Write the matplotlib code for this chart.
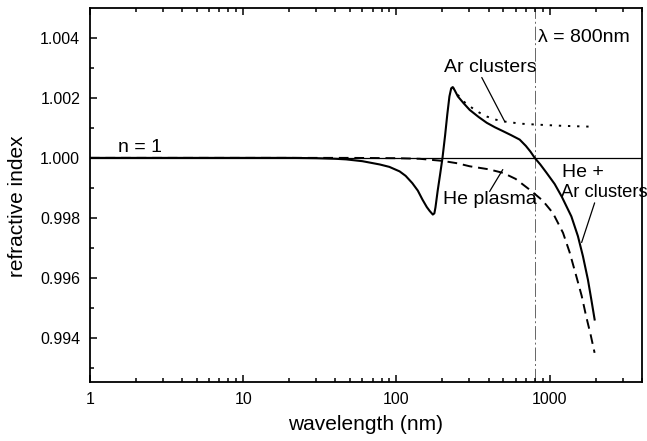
"""
Refractive index vs wavelength: He plasma, Ar clusters and the mixture.
Values read off the reference figure by eye.
"""
import matplotlib
matplotlib.use("Agg")
import matplotlib.pyplot as plt
from matplotlib.ticker import FixedLocator, LogLocator, NullFormatter, FormatStrFormatter

plt.rcParams["font.family"] = ["Liberation Sans", "DejaVu Sans"]

# ----- data -----
wl_mix = [1, 10, 20, 30, 40, 47, 60, 78, 90, 105, 115, 127, 138, 148, 158, 165, 173,
          177, 180, 186, 193, 200, 208, 215, 222, 228, 233, 240, 252, 275, 301, 345,
          389, 440, 497, 560, 638, 700, 750, 800, 870, 953, 1079, 1200, 1387, 1531,
          1651, 1779, 1872, 1968]
n_mix = [1.0, 1.0, 1.0, 0.99999, 0.99997, 0.99995, 0.99989, 0.99978, 0.99970, 0.99955,
         0.99940, 0.99916, 0.99891, 0.99861, 0.99836, 0.99823, 0.99811,
         0.99815, 0.99835, 0.99890, 0.99945, 1.00000, 1.00075, 1.00145, 1.00205,
         1.00232, 1.00236, 1.00226, 1.00205, 1.00182, 1.00160, 1.00136,
         1.00117, 1.00102, 1.00089, 1.00076, 1.00061, 1.00040, 1.00021, 1.00000,
         0.99978, 0.99951, 0.99913, 0.99871, 0.99805, 0.99739,
         0.99672, 0.99594, 0.99528, 0.99461]

wl_ar = [233, 240, 252, 275, 301, 345, 389, 440, 510, 650, 820, 1200, 1600, 1900]
n_ar = [1.00236, 1.00228, 1.00210, 1.00188, 1.00172, 1.00152, 1.00138, 1.00128,
        1.00121, 1.00114, 1.00111, 1.00107, 1.00105, 1.00104]

wl_he = [1, 50, 100, 142, 200, 250, 301, 400, 497, 600, 741, 900, 1052, 1224, 1350,
         1495, 1620, 1732, 1850, 1967]
n_he = [1.0, 1.0, 0.99999, 0.99997, 0.99990, 0.99982, 0.99972, 0.99962, 0.99950,
        0.99930, 0.99894, 0.99858, 0.99816, 0.99750, 0.99686, 0.99605, 0.99540,
        0.99472, 0.99412, 0.99350]

y_ticks = [0.994, 0.996, 0.998, 1.000, 1.002, 1.004]
laser_wl = 800


def main() -> None:
    fig = plt.figure(figsize=(6.47, 4.41), dpi=100)
    ax = fig.add_axes([0.139, 0.134, 0.853, 0.848])

    # reference lines
    ax.axhline(1.0, color="black", lw=0.9, zorder=1)
    ax.axvline(laser_wl, color="0.4", lw=0.7, ls=(0, (14, 3, 2, 3)), zorder=1)

    ax.plot(wl_mix, n_mix, color="black", lw=1.5, zorder=3)
    ax.plot(wl_ar, n_ar, color="black", lw=1.4, ls=(0, (1.2, 3.5)), zorder=2)
    ax.plot(wl_he, n_he, color="black", lw=1.4, ls=(0, (5, 3)), zorder=2)

    ax.set_xscale("log")
    ax.set_xlim(1, 4000)
    ax.set_ylim(0.99253, 1.005)

    ax.xaxis.set_major_locator(FixedLocator([1, 10, 100, 1000]))
    ax.xaxis.set_major_formatter(FormatStrFormatter("%d"))
    ax.xaxis.set_minor_locator(LogLocator(base=10, subs=range(2, 10)))
    ax.xaxis.set_minor_formatter(NullFormatter())
    ax.yaxis.set_major_locator(FixedLocator(y_ticks))
    ax.yaxis.set_major_formatter(FormatStrFormatter("%.3f"))
    ax.yaxis.set_minor_locator(FixedLocator([0.993, 0.995, 0.997, 0.999, 1.001, 1.003]))

    ax.tick_params(which="both", direction="in", top=True, right=False,
                   labelsize=11.5, width=1.1)
    ax.tick_params(which="major", length=5, pad=7)
    ax.tick_params(which="minor", length=3)
    for s in ax.spines.values():
        s.set_linewidth(1.3)

    ax.set_xlabel("wavelength (nm)", fontsize=15, labelpad=6)
    ax.set_ylabel("refractive index", fontsize=15)
    ax.yaxis.set_label_coords(-0.114, 0.47)

    # labels and leader lines
    fs = 14
    ax.text(1.52, 1.00034, "n = 1", fontsize=fs, va="center", ha="left")
    ax.text(836, 1.00401, "\u03bb = 800nm", fontsize=fs, va="center", ha="left")
    ax.text(413, 1.00301, "Ar clusters", fontsize=fs, va="center", ha="center")
    ax.text(406, 0.99861, "He plasma", fontsize=fs, va="center", ha="center")
    ax.text(1199, 0.99951, "He +", fontsize=fs, va="center", ha="left")
    ax.text(1180, 0.99884, "Ar clusters", fontsize=13.2, va="center", ha="left")

    leader = dict(arrowstyle="-", color="black", lw=0.9, shrinkA=0, shrinkB=0)
    ax.annotate("", xy=(510, 1.00121), xytext=(361, 1.00268), arrowprops=leader)
    ax.annotate("", xy=(495, 0.99961), xytext=(406, 0.99888), arrowprops=leader)
    ax.annotate("", xy=(1619, 0.99718), xytext=(1968, 0.99850), arrowprops=leader)

    fig.savefig("out.png", dpi=100)
    plt.close(fig)


if __name__ == "__main__":
    main()
